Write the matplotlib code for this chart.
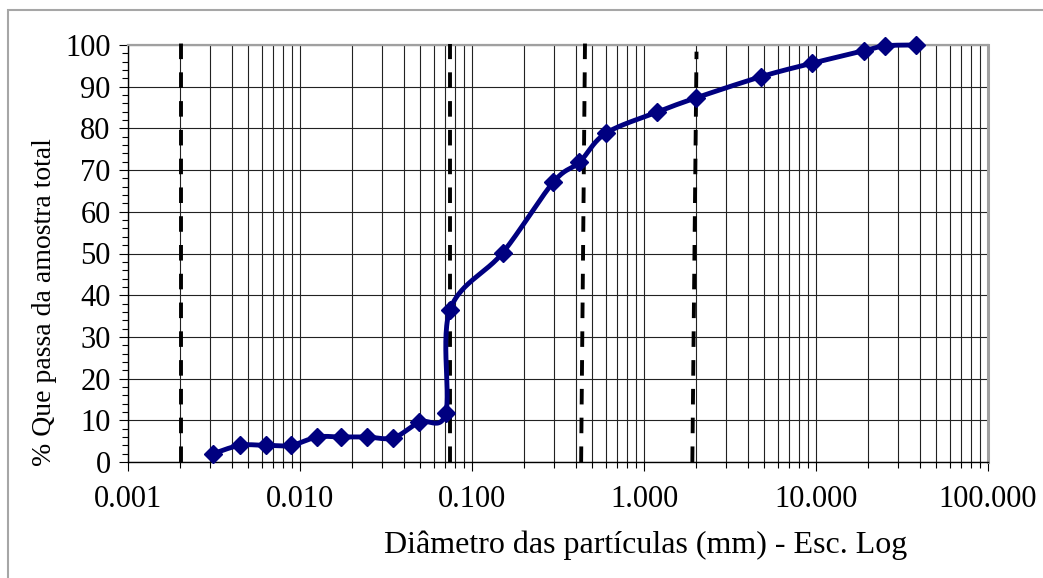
import numpy as np
import matplotlib.pyplot as plt
from matplotlib.patches import Rectangle
from matplotlib.ticker import FixedLocator, LogLocator, FuncFormatter, MultipleLocator, NullFormatter

plt.rcParams['font.family'] = ['Liberation Serif', 'DejaVu Serif']

# diametro (mm) e % passante
diam = [0.00313, 0.00448, 0.00632, 0.00887, 0.0126, 0.0173, 0.0244, 0.0349,
        0.0494, 0.0703, 0.0745, 0.151, 0.297, 0.421, 0.598, 1.19, 2.0,
        4.79, 9.43, 19.0, 25.2, 37.9]
passa = [2, 4, 4, 4, 6, 6, 6, 5.8, 9.6, 11.7, 36.5, 50.2, 67.1, 71.9,
         78.8, 83.9, 87.3, 92.4, 95.6, 98.6, 99.8, 100]

# limites das fracoes (argila / silte / areia fina / media / grossa)
lim_base = [0.00202, 0.0745, 0.431, 1.91]
lim_topo = [0.00202, 0.0745, 0.454, 2.02]
lim_ytopo = [101.2, 100.3, 101.0, 98.4]

tick_lbl = ['0.001', '0.010', '0.100', '1.000', '10.000', '100.000']


def suaviza(x, y, n=30, sx=172.0, sy=4.17):
    # curva suavizada tipo Excel (bezier com tangentes de Catmull-Rom)
    u = np.log10(np.asarray(x, float)) * sx
    v = np.asarray(y, float) * sy
    P = np.column_stack([u, v])
    P = np.vstack([P[0], P, P[-1]])
    t = np.linspace(0, 1, n)[:, None]
    pts = []
    for i in range(1, len(P) - 2):
        p0, p3 = P[i], P[i + 1]
        c1 = p0 + (P[i + 1] - P[i - 1]) / 6.0
        c2 = p3 - (P[i + 2] - P[i]) / 6.0
        seg = ((1 - t) ** 3) * p0 + 3 * ((1 - t) ** 2) * t * c1 + 3 * (1 - t) * t ** 2 * c2 + t ** 3 * p3
        pts.append(seg if i == 1 else seg[1:])
    pts = np.vstack(pts)
    return 10 ** (pts[:, 0] / sx), pts[:, 1] / sy


fig = plt.figure(figsize=(10.43, 5.78), dpi=100)
ax = fig.add_axes([128 / 1043, 1 - 462 / 578, 860 / 1043, 417 / 578])

# moldura cinza do grafico
fig.patches.append(Rectangle((8 / 1043, -0.2), 1.2, 1 - 10 / 578 + 0.2,
                             transform=fig.transFigure, fill=False,
                             edgecolor='#a6a6a6', lw=1.5))

ax.set_xscale('log')
ax.set_xlim(0.001, 100)
ax.set_ylim(0, 100)

ax.xaxis.set_major_locator(FixedLocator([0.001, 0.01, 0.1, 1, 10, 100]))
ax.xaxis.set_major_formatter(FuncFormatter(lambda v, p: tick_lbl[p] if p is not None and p < len(tick_lbl) else ''))
ax.xaxis.set_minor_locator(LogLocator(base=10, subs=np.arange(2, 10), numticks=20))
ax.xaxis.set_minor_formatter(NullFormatter())
ax.yaxis.set_major_locator(MultipleLocator(10))
ax.yaxis.set_minor_locator(MultipleLocator(2))

ax.tick_params(axis='both', which='major', direction='out', length=6.5, width=0.8,
               labelsize=22)
ax.tick_params(axis='x', which='major', pad=10)
ax.tick_params(axis='y', which='major', pad=6)
ax.tick_params(axis='both', which='minor', direction='out', length=4, width=0.8)

ax.grid(True, which='major', axis='both', color='#222222', lw=0.8)
ax.grid(True, which='minor', axis='x', color='#222222', lw=0.8)
ax.set_axisbelow(True)

for s in ['top', 'right']:
    ax.spines[s].set_color('#a0a0a0')
ax.spines['top'].set_linewidth(1.6)
ax.spines['right'].set_linewidth(2.2)
for s in ['left', 'bottom']:
    ax.spines[s].set_color('black')
    ax.spines[s].set_linewidth(1.0)

for xb, xt, yt in zip(lim_base, lim_topo, lim_ytopo):
    ax.plot([xb, xt], [0, yt], color='black', lw=2.8, dashes=(4.0, 3.4),
            clip_on=False, zorder=3)

xs, ys = suaviza(diam, passa)
ax.plot(xs, ys, color='#000080', lw=3.5, zorder=4, clip_on=False)
ax.plot(diam, passa, ls='none', marker='D', ms=9, color='#000080', zorder=5, clip_on=False)

fig.text(45 / 1043, 1 - 302 / 578, '% Que passa da amostra total', rotation=90,
         ha='center', va='center', fontsize=20)
fig.text(646 / 1043, 1 - 545 / 578, 'Diâmetro das partículas (mm) - Esc. Log',
         ha='center', va='center', fontsize=23)

fig.savefig('out.png', dpi=100)
